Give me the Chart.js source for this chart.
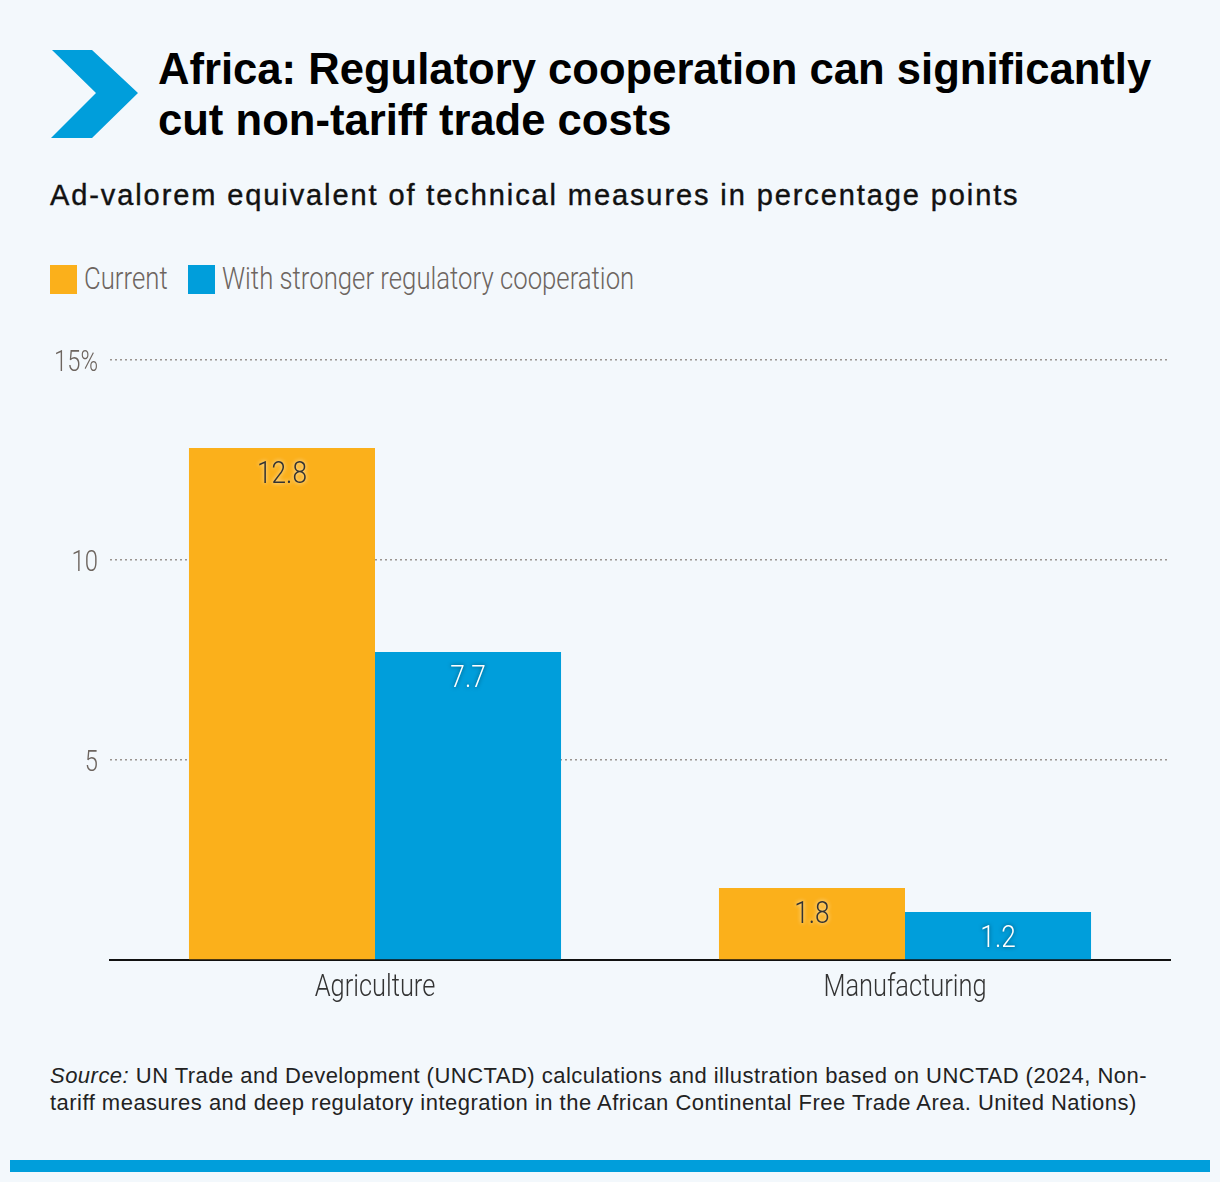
<!DOCTYPE html>
<html>
<head>
<meta charset="utf-8">
<script src="https://cdn.jsdelivr.net/npm/chart.js@4.4.1/dist/chart.umd.min.js"></script>
<style>
  html, body { margin: 0; padding: 0; }
  body {
    width: 1220px; height: 1182px; position: relative; overflow: hidden;
    background: #f3f8fc; font-family: "Liberation Sans", Arial, sans-serif;
  }
  .chevron { position: absolute; left: 0; top: 0; width: 200px; height: 160px; }
  h1 {
    position: absolute; left: 158px; top: 44px; margin: 0;
    font-size: 43.6px; line-height: 51px; font-weight: bold; color: #000;
  }
  .subtitle {
    position: absolute; left: 50px; top: 179px; margin: 0; white-space: nowrap;
    font-size: 29px; color: #111; -webkit-text-stroke: 0.4px #111; letter-spacing: 1.9px;
  }
  .legend {
    position: absolute; left: 0; top: 264px; height: 32px; width: 800px;
    font-family: Roboto, sans-serif; font-weight: 300;
    font-size: 31px; color: #6d655f;
  }
  .legend .box { position: absolute; top: 1px; width: 27px; height: 29px; }
  .legend .item {
    position: absolute; top: -3px; line-height: 36px; white-space: nowrap;
    transform: scaleX(0.83); transform-origin: left center;
  }
  #wrap { position: absolute; left: 0; top: 330px; width: 1220px; height: 700px; }
  .source {
    position: absolute; left: 50px; top: 1062px; margin: 0; white-space: nowrap;
    font-size: 22px; line-height: 27px; color: #222; letter-spacing: 0.48px;
  }
  .bottom-bar { position: absolute; left: 10px; top: 1160px; width: 1200px; height: 12px; background: #009edb; }
</style>
</head>
<body>
<svg class="chevron" viewBox="0 0 200 160">
  <polygon points="52,50 92,50 138,93 92,138 51,138 96,93" fill="#009edb"/>
</svg>
<h1>Africa: Regulatory cooperation can significantly<br>cut non-tariff trade costs</h1>
<div class="subtitle">Ad-valorem equivalent of technical measures in percentage points</div>
<div class="legend" id="legend"></div>
<div id="wrap"><canvas id="chart"></canvas></div>
<div class="source"><i>Source:</i> UN Trade and Development (UNCTAD) calculations and illustration based on UNCTAD (2024, Non-<br>tariff measures and deep regulatory integration in the African Continental Free Trade Area. United Nations)</div>
<div class="bottom-bar"></div>

<script>
// data
const categories = ['Agriculture', 'Manufacturing'];
const seriesNames = ['Current', 'With stronger regulatory cooperation'];
const currentValues = [12.8, 1.8];
const cooperationValues = [7.7, 1.2];
const yTicks = [0, 5, 10, 15];

const ORANGE = '#fbb01b';
const BLUE = '#009edb';
const SQUEEZE = 0.82; // no condensed face installed, so narrow the glyphs by hand

// html legend
const legendEl = document.getElementById('legend');
const legendX = [[50, 84], [188, 222]];
[ORANGE, BLUE].forEach((c, i) => {
    const box = document.createElement('span');
    box.className = 'box';
    box.style.background = c;
    box.style.left = legendX[i][0] + 'px';
    const txt = document.createElement('span');
    txt.className = 'item';
    txt.style.left = legendX[i][1] + 'px';
    txt.textContent = seriesNames[i];
    legendEl.appendChild(box);
    legendEl.appendChild(txt);
});

function narrowText(ctx, text, x, y, align) {
    ctx.save();
    ctx.translate(x, y);
    ctx.scale(SQUEEZE, 1);
    ctx.textAlign = align;
    ctx.fillText(text, 0, 0);
    ctx.restore();
}

// axis labels at the scales' own tick positions
const axisLabels = {
    id: 'axisLabels',
    afterDraw(chart) {
        const ctx = chart.ctx;
        const xs = chart.scales.x, ys = chart.scales.y;
        ctx.save();
        ctx.textBaseline = 'alphabetic';
        ctx.font = '300 31px Roboto, sans-serif';
        ctx.fillStyle = '#333';
        xs.ticks.forEach((t, i) => {
            narrowText(ctx, categories[i], xs.getPixelForTick(i), xs.top + 36, 'center');
        });
        ctx.font = '300 29px Roboto, sans-serif';
        ctx.fillStyle = '#6d655f';
        ys.ticks.forEach((t) => {
            if (t.value === 0) return;
            const txt = t.value === 15 ? '15%' : String(t.value);
            narrowText(ctx, txt, ys.right - 12, ys.getPixelForValue(t.value) + 11, 'right');
        });
        ctx.restore();
    }
};

// value labels drawn inside top of each bar
const barLabels = {
    id: 'barLabels',
    afterDatasetsDraw(chart) {
        const ctx = chart.ctx;
        chart.data.datasets.forEach((ds, di) => {
            const meta = chart.getDatasetMeta(di);
            meta.data.forEach((bar, i) => {
                ctx.save();
                ctx.font = '300 32px Roboto, sans-serif';
                ctx.textBaseline = 'alphabetic';
                if (di === 0) {
                    ctx.fillStyle = '#333';
                    ctx.shadowColor = 'rgba(255,255,255,0.9)';
                } else {
                    ctx.fillStyle = '#fff';
                    ctx.shadowColor = 'rgba(0,0,0,0.55)';
                }
                ctx.shadowBlur = 4;
                narrowText(ctx, ds.data[i].toFixed(1), bar.x, bar.y + 35, 'center');
                ctx.restore();
            });
        });
    }
};

new Chart(document.getElementById('chart'), {
    type: 'bar',
    data: {
        labels: categories,
        datasets: [
            { label: seriesNames[0], data: currentValues, backgroundColor: ORANGE },
            { label: seriesNames[1], data: cooperationValues, backgroundColor: BLUE }
        ]
    },
    options: {
        responsive: true,
        maintainAspectRatio: false,
        animation: false,
        layout: { padding: { top: 30, right: 50, left: 0, bottom: 0 } },
        datasets: { bar: { categoryPercentage: 0.702, barPercentage: 1.0 } },
        plugins: { legend: { display: false }, tooltip: { enabled: false } },
        scales: {
            x: {
                grid: { display: false },
                border: { display: true, color: '#111', width: 2 },
                ticks: { color: 'rgba(0,0,0,0)', font: { size: 31 } },
                afterFit(scale) { scale.height = 70; }
            },
            y: {
                min: 0, max: 15,
                afterBuildTicks(scale) { scale.ticks = yTicks.map(v => ({ value: v })); },
                afterFit(scale) { scale.width = 110; },
                border: { display: false, dash: [2, 3] },
                grid: {
                    drawTicks: false,
                    lineWidth: 1.5,
                    color: (c) => c.tick && c.tick.value === 0 ? 'rgba(0,0,0,0)' : '#9a948f'
                },
                ticks: { color: 'rgba(0,0,0,0)', font: { size: 28 } }
            }
        }
    },
    plugins: [barLabels, axisLabels]
});
</script>
</body>
</html>
